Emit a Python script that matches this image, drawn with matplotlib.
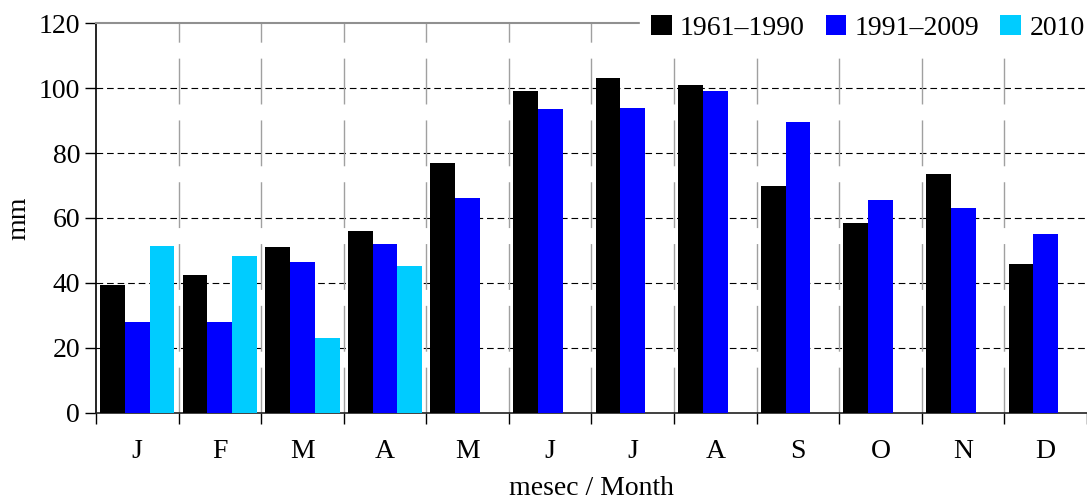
import numpy as np
import matplotlib
matplotlib.use("Agg")
import matplotlib.pyplot as plt

plt.rcParams['font.family'] = ['Liberation Serif', 'DejaVu Serif']

# podaci
months = ["J", "F", "M", "A", "M", "J", "J", "A", "S", "O", "N", "D"]
p_1961_1990 = [39.5, 42.5, 51, 56, 77, 99, 103, 101, 70, 58.5, 73.5, 45.8]
p_1991_2009 = [28, 28, 46.5, 52, 66, 93.5, 94, 99, 89.5, 65.5, 63, 55]
p_2010 = [51.5, 48.3, 23.1, 45.2, np.nan, np.nan, np.nan, np.nan, np.nan, np.nan, np.nan, np.nan]
labels = ["1961\u20131990", "1991\u20132009", "2010"]

fig = plt.figure(figsize=(10.87, 4.95), dpi=100)
ax = fig.add_axes([0.0883, 0.1657, 0.9117, 0.7878])

x = np.arange(len(months))
w = 0.3
ax.bar(x - w, p_1961_1990, w, color="black", label=labels[0], zorder=3)
ax.bar(x, p_1991_2009, w, color="#0000ff", label=labels[1], zorder=3)
ax.bar(x + w, p_2010, w, color="#00ccff", label=labels[2], zorder=3)

ax.set_xlim(-0.5, 11.5)
ax.set_ylim(0, 120)
ax.set_yticks(np.arange(0, 121, 20))

# mreza
for yv in range(20, 120, 20):
  ax.axhline(yv, color="black", lw=0.8, ls=(0, (6, 3.5)), zorder=1)
for xv in np.arange(0.5, 11.5, 1):
  ax.axvline(xv, color="#a0a0a0", lw=1.0, ls=(0, (33, 11.5)), zorder=1)

ax.set_xticks(np.arange(-0.5, 12, 1))
ax.set_xticklabels([])
ax.set_xticks(x, minor=True)
ax.set_xticklabels(months, minor=True)
ax.tick_params(axis="x", which="major", direction="out", length=8, width=1)
ax.tick_params(axis="x", which="minor", length=0, pad=19, labelsize=20)
ax.tick_params(axis="y", direction="out", length=8, width=1, labelsize=20)

ax.spines["top"].set_color("#909090")
ax.spines["top"].set_linewidth(1.5)
ax.spines["right"].set_visible(False)
ax.spines["left"].set_linewidth(1.2)
ax.spines["bottom"].set_linewidth(1.2)
ax.spines["bottom"].set_color("#202020")

ax.set_ylabel("mm", fontsize=20, labelpad=5)
ax.set_xlabel("mesec / Month", fontsize=20, labelpad=8.5)

leg = ax.legend(loc="center right", bbox_to_anchor=(1.009, 0.988), ncol=3, frameon=True,
                fontsize=20, handlelength=0.75, handleheight=0.75, handletextpad=0.3,
                columnspacing=0.75, borderpad=0.4, borderaxespad=0.0, fancybox=False)
leg.get_frame().set_facecolor("white")
leg.get_frame().set_edgecolor("white")
leg.get_frame().set_alpha(1)
leg.set_zorder(5)

fig.savefig("out.png", dpi=100)
